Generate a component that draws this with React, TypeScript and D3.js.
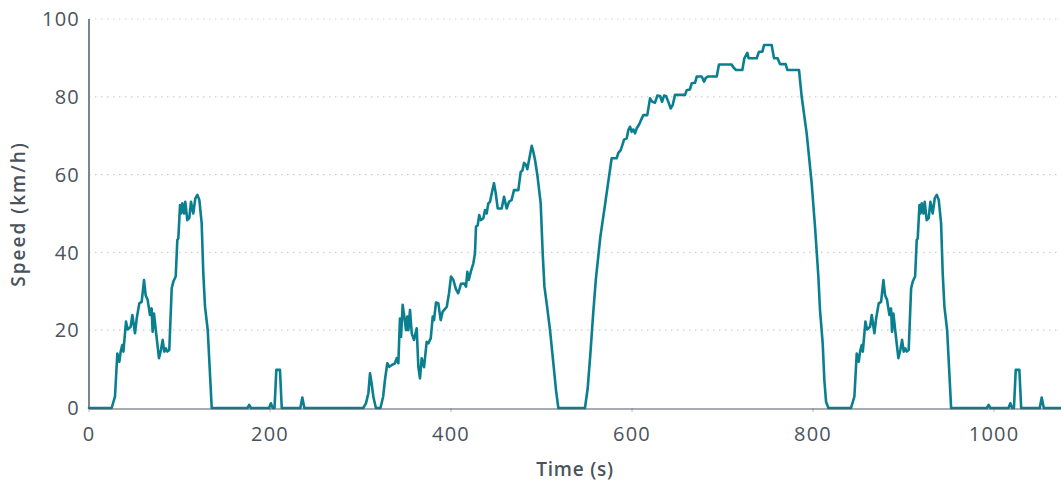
import React from "react";
import * as d3 from "d3";

// Drive-cycle speed trace: time in seconds, speed in km/h
const timeS: number[] = [
  0, 25, 28.7, 31.3, 33.5, 35, 36.8, 38, 40.9, 42.7, 46, 47.9, 50.8, 52.7, 55.6, 58.2, 60.8, 62.6, 64.8, 67.4,
  69.2, 70.3, 71.8, 74, 77.3, 79.5, 81.4, 83.2, 85, 86.5, 88.7, 91.4, 93.2, 95.8, 97.6, 98.7, 100.6, 101.7, 103.1, 105,
  106.4, 108.6, 110.8, 112.7, 115.2, 117.5, 119.7, 121.9, 124.5, 126.3, 128.2, 131.2, 135.6,
  175, 177, 179, 199, 201, 203, 205, 207, 211, 213, 233.5, 235.7, 238,
  303, 306, 308.7, 310.5, 312.3, 314.2, 317, 322, 325, 327, 329.6, 331.8, 334.4, 338, 340, 341.8, 343.6, 344.8,
  346.6, 348.4, 350.3, 351.7, 352.9, 354.7, 356.6, 359.1, 362.1, 363.9, 365.7, 367.6, 370.2, 373.1, 374.9, 377.6,
  379.8, 381.2, 383.4, 386, 388.6, 390.8, 395.3, 397.8, 400, 402.6, 405.5, 408, 411, 414.7, 416.6, 418, 419.6,
  421.8, 424.7, 426.5, 427.6, 429.5, 431.2, 433.1, 435.7, 437.6, 439.4, 441.2, 443.1, 445, 447.5, 449.4, 451.6,
  456, 458.6, 461.5, 464.1, 467, 469.6, 474.4, 477, 478.8, 480.7, 482.9, 484.3, 486.6, 489.2, 490.9, 492.8, 495.4,
  499.1, 501.3, 503.2, 505.7, 509.4, 513.1, 516, 518.6,
  548, 551, 554, 557, 560, 565, 570, 574, 577.5, 583, 584.9, 587.5, 589.3, 591.2, 594.1, 596, 597.8, 599.7, 601.5,
  603.3, 605.2, 607.7, 609.9, 612.5, 616.9, 619.9, 622.5, 625.4, 628, 631, 633.2, 635.4, 637.6, 640.1, 642.8, 645,
  647.5, 658.6, 660.4, 664, 666, 669.6, 671.5, 677, 679.6, 681.4, 683.6, 693.6, 696.1, 710.1, 711.9, 714.9, 721.9,
  724.1, 727.4, 728.9, 737.8, 740.3, 744, 745.9, 754.3, 756.9, 760.9, 763.5, 769.8, 771.6, 784.5, 787.5, 793,
  798.5, 802.2, 805.9, 807.7, 810.7, 812.5, 814.4, 817,
  842, 845.7, 848.3, 850.5, 852, 853.8, 855, 857.9, 859.7, 863, 864.9, 867.8, 869.7, 872.6, 875.2, 877.8, 879.6,
  881.8, 884.4, 886.2, 887.3, 888.8, 891, 894.3, 896.5, 898.4, 900.2, 902, 903.5, 905.7, 908.4, 910.2, 912.8,
  914.6, 915.7, 917.6, 918.7, 920.1, 922, 923.4, 925.6, 927.8, 929.7, 932.2, 934.5, 936.7, 938.9, 941.5, 943.3,
  945.2, 948.2, 952.6,
  992, 994, 996, 1016, 1018, 1020, 1022, 1024, 1028, 1030, 1050.5, 1052.7, 1055, 1074,
];

const speedKmh: number[] = [
  0, 0, 2.9, 14, 11.9, 14.5, 16.2, 14.5, 22.2, 20.2, 20.9, 23.9, 19.2, 23, 26.9, 27.3, 32.9, 29, 27.8, 23.9,
  25.6, 19.6, 24.3, 19.6, 12.8, 14.9, 17.5, 14.5, 15.3, 14.5, 14.9, 30.8, 32.5, 33.8, 43.2, 43.6, 52.2, 50, 52.6, 50,
  53, 48.3, 48.8, 53, 50, 53.9, 54.8, 53.5, 47.5, 34.6, 26, 20, 0,
  0, 0.8, 0, 0, 1.2, 0, 0, 9.8, 9.8, 0, 0, 2.7, 0,
  0, 1.2, 3.8, 8.9, 6.3, 2.9, 0, 0, 2.9, 7.2, 11.5, 10.6, 11, 11.5, 12.8, 11.5, 23, 18.3,
  26.5, 23.5, 20, 23.5, 20, 25.2, 19.2, 17.5, 20.5, 10.6, 7.6, 12.8, 10.5, 17, 16.6, 17.9,
  23.5, 22.6, 27.1, 26.9, 22.6, 24.8, 26, 29.5, 33.8, 32.9, 30.5, 29.5, 31.9, 32, 31.2, 35, 32.9,
  35, 37.2, 39.8, 46.6, 47, 49.6, 48.3, 48.8, 50.9, 50, 52.6, 53, 55.2, 57.8, 55.2, 51.3,
  51.3, 54.3, 51.3, 53, 53.5, 56, 56, 60.7, 61, 63, 62.5, 61.4, 64.2, 67.4, 65.9, 63.8, 59.9,
  52.6, 39.8, 31.2, 26.9, 20, 11.5, 4.6, 0,
  0, 5, 14, 24, 33, 44, 52, 58.5, 64.2, 64.2, 65.6, 66.3, 67.6, 69, 69.3, 71.5, 72.3, 71, 71.6,
  70.6, 71.9, 72.8, 74, 75.3, 75.3, 79.6, 78.7, 78.5, 80.3, 80.2, 78.7, 80.3, 80.2, 78.7, 77, 77.9,
  80.5, 80.5, 81.7, 81.9, 83.5, 83.6, 85.2, 85.2, 83.9, 84.8, 85.2, 85.2, 88.3, 88.3, 87.6, 86.9, 86.9,
  89.9, 91.3, 89.9, 89.9, 91.6, 91.6, 93.3, 93.3, 89.9, 89.9, 88.4, 88.4, 86.9, 86.9, 80, 70.6,
  57.8, 46.6, 33.8, 25.2, 16.6, 7.2, 1.6, 0,
  0, 2.9, 14, 11.9, 14.5, 16.2, 14.5, 22.2, 20.2, 20.9, 23.9, 19.2, 23, 26.9, 27.3, 32.9, 29,
  27.8, 23.9, 25.6, 19.6, 24.3, 19.6, 12.8, 14.9, 17.5, 14.5, 15.3, 14.5, 14.9, 30.8, 32.5, 33.8,
  43.2, 43.6, 52.2, 50, 52.6, 50, 53, 48.3, 48.8, 53, 50, 53.9, 54.8, 53.5, 47.5, 34.6,
  26, 20, 0,
  0, 0.8, 0, 0, 1.2, 0, 0, 9.8, 9.8, 0, 0, 2.7, 0, 0,
];

const yTicks: number[] = [0, 20, 40, 60, 80, 100];
const xTicks: number[] = [0, 200, 400, 600, 800, 1000];

const W = 1061;
const H = 486;
const margin = { left: 89, right: 0, top: 19, bottom: 78 };

export default function App() {
  const x = d3.scaleLinear().domain([0, 1074]).range([margin.left, W - margin.right]);
  const y = d3.scaleLinear().domain([0, 100]).range([H - margin.bottom, margin.top]);

  const points: [number, number][] = timeS.map((t, i) => [t, speedKmh[i]]);
  const line = d3
    .line<[number, number]>()
    .x((d) => x(d[0]))
    .y((d) => y(d[1]));

  const tickFont = "'Open Sans', sans-serif";
  const textColor = "#4a535c";

  return (
    <svg
      width={W}
      height={H}
      style={{ position: "absolute", left: 0, top: 0, background: "#fff" }}
    >
      {/* horizontal grid */}
      {yTicks
        .filter((v) => v > 0)
        .map((v) => (
          <line
            key={`g${v}`}
            x1={x(0)}
            x2={W}
            y1={y(v)}
            y2={y(v)}
            stroke="#c9cdd1"
            strokeWidth={1.2}
            strokeDasharray="1.5 4.5"
          />
        ))}

      {/* y axis */}
      <line x1={x(0)} x2={x(0)} y1={y(100)} y2={y(0)} stroke="#7c868f" strokeWidth={2} />
      {yTicks.map((v) => (
        <text
          key={`yt${v}`}
          x={80}
          y={y(v)}
          dy="0.36em"
          textAnchor="end"
          fontFamily={tickFont}
          fontWeight={400}
          fontSize={20}
          letterSpacing={1.2}
          fill={textColor}
        >
          {v}
        </text>
      ))}

      {/* x axis ticks */}
      {xTicks.map((t) => (
        <line key={`xm${t}`} x1={x(t)} x2={x(t)} y1={y(0)} y2={y(0) + 4} stroke="#b8bdc2" strokeWidth={1} />
      ))}
      {xTicks.map((t) => (
        <text
          key={`xt${t}`}
          x={x(t)}
          y={434}
          dy="0.36em"
          textAnchor="middle"
          fontFamily={tickFont}
          fontWeight={400}
          fontSize={20}
          letterSpacing={1.2}
          fill={textColor}
        >
          {t}
        </text>
      ))}

      {/* speed trace */}
      <path
        d={line(points) ?? ""}
        fill="none"
        stroke="#0a7f8f"
        strokeWidth={2.6}
        strokeLinejoin="round"
        strokeLinecap="round"
      />

      {/* x axis baseline */}
      <line x1={x(0)} x2={W} y1={y(0) + 1} y2={y(0) + 1} stroke="#4f5a64" strokeWidth={1.2} />

      {/* axis titles */}
      <text
        x={575}
        y={469}
        dy="0.36em"
        textAnchor="middle"
        fontFamily={tickFont}
        fontWeight={600}
        fontSize={19}
        letterSpacing={0.8}
        fill={textColor}
      >
        Time (s)
      </text>
      <text
        transform={`translate(18, 214) rotate(-90)`}
        dy="0.36em"
        textAnchor="middle"
        fontFamily={tickFont}
        fontWeight={600}
        fontSize={19}
        letterSpacing={2}
        fill={textColor}
      >
        Speed (km/h)
      </text>
    </svg>
  );
}
